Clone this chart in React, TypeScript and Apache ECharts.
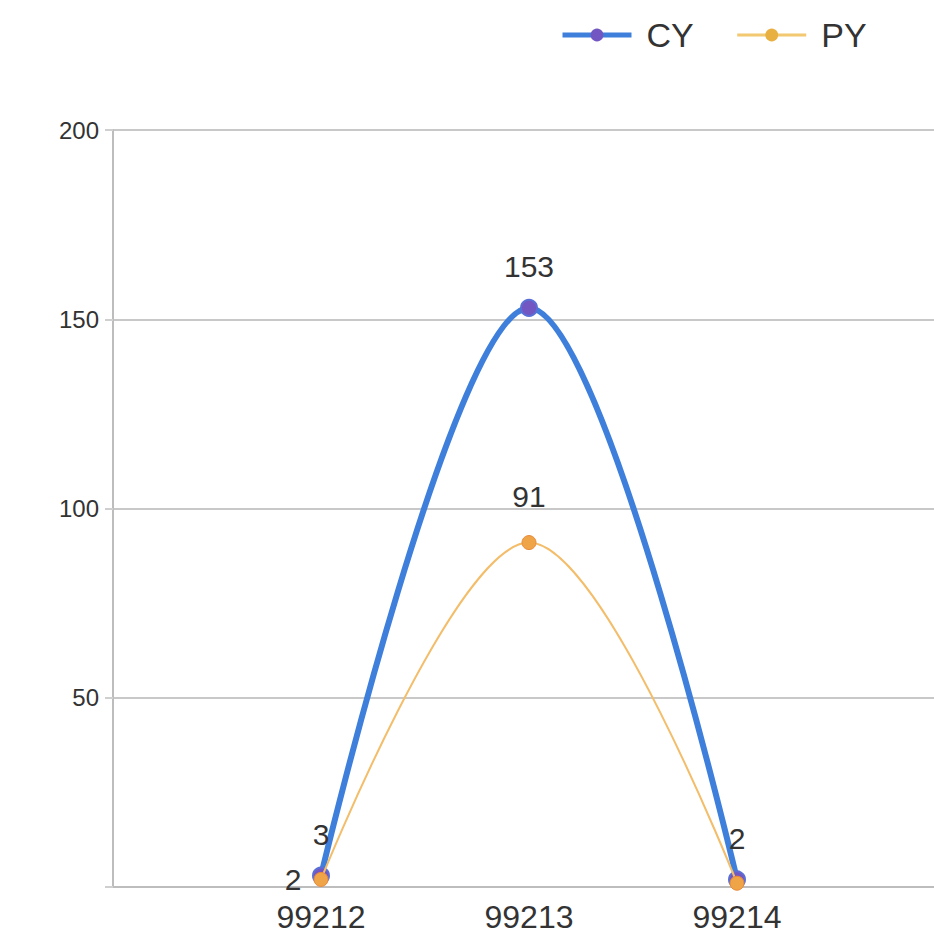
import React, { useEffect, useRef } from "react";
import * as echarts from "echarts";

const categories = ["", "99212", "99213", "99214", ""];
const cyValues: (number | null)[] = [null, 3, 153, 2, null];
const pyValues: (number | null)[] = [null, 2, 91, 1, null];
const seriesNames = ["CY", "PY"];
const yMin = 0;
const yMax = 200;
const yInterval = 50;

const FONT = "'Liberation Sans', Arial, sans-serif";
const CY_LINE = "#3f7fdc";
const CY_MARK = "#7256c2";
const PY_LINE = "#f3bd6a";
const PY_MARK = "#f0a448";

export default function App() {
  const ref = useRef<HTMLDivElement>(null);
  useEffect(() => {
    if (!ref.current) return;
    const chart = echarts.init(ref.current, null, { renderer: "svg" });
    const pyData = pyValues.map((v, i) => {
      if (i === 1) return { value: v, label: { position: "left", distance: 12 } };
      if (i === 3) return { value: v, label: { show: false } };
      return v;
    });
    chart.setOption({
      animation: false,
      backgroundColor: "#ffffff",
      textStyle: { fontFamily: FONT },
      legend: {
        data: [
          { name: seriesNames[0], lineStyle: { width: 5, color: CY_LINE }, itemStyle: { color: CY_MARK, borderWidth: 0 } },
          { name: seriesNames[1], lineStyle: { width: 3, color: "#f2c870" }, itemStyle: { color: "#e8b040", borderWidth: 0 } },
        ],
        left: 555,
        top: 13,
        itemWidth: 69,
        itemHeight: 16,
        itemGap: 42,
        textStyle: { fontSize: 34, color: "#333", fontFamily: FONT, padding: [0, 0, 0, 10] },
      },
      grid: { left: 113, width: 832, top: 130, bottom: 57, containLabel: false },
      xAxis: {
        type: "category",
        data: categories,
        boundaryGap: false,
        axisLine: { show: true, lineStyle: { color: "#bdbdbd", width: 2 } },
        axisTick: { show: false },
        axisLabel: { fontSize: 32, color: "#333", margin: 14, fontFamily: FONT, interval: 0 },
        splitLine: { show: false },
      },
      yAxis: {
        type: "value",
        min: yMin,
        max: yMax,
        interval: yInterval,
        axisLine: { show: true, lineStyle: { color: "#bdbdbd", width: 2 } },
        axisTick: { show: true, length: 8, lineStyle: { color: "#cfcfcf", width: 2 } },
        axisLabel: {
          fontSize: 24,
          color: "#333",
          margin: 14,
          fontFamily: FONT,
          formatter: (v: number) => (v === 0 ? "" : String(v)),
        },
        splitLine: { show: true, lineStyle: { color: "#c8c8c8", width: 2 } },
      },
      series: [
        {
          name: seriesNames[0],
          type: "line",
          data: cyValues,
          smooth: 0.35,
          symbol: "circle",
          symbolSize: 16,
          lineStyle: { color: CY_LINE, width: 6 },
          itemStyle: { color: CY_MARK, borderColor: "#5a6fd6", borderWidth: 2 },
          label: { show: true, position: "top", distance: 17, fontSize: 30, color: "#333", fontFamily: FONT },
          z: 2,
        },
        {
          name: seriesNames[1],
          type: "line",
          data: pyData,
          smooth: 0.35,
          symbol: "circle",
          symbolSize: 14,
          lineStyle: { color: PY_LINE, width: 2 },
          itemStyle: { color: PY_MARK, borderColor: "#e88a3a", borderWidth: 1 },
          label: { show: true, position: "top", distance: 24, fontSize: 30, color: "#333", fontFamily: FONT },
          z: 3,
        },
      ],
    });
    return () => chart.dispose();
  }, []);
  return (
    <div
      style={{ position: "fixed", left: 0, top: 0, width: 934, height: 944, overflow: "hidden", background: "#fff" }}
    >
      <div ref={ref} style={{ width: 960, height: 944 }} />
    </div>
  );
}
